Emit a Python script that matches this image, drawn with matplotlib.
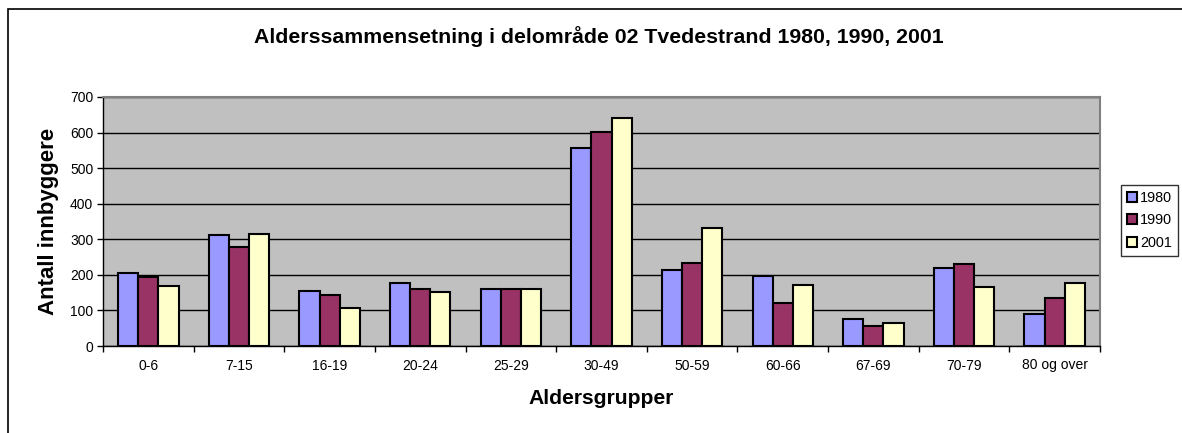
import numpy as np
import matplotlib

matplotlib.use("Agg")
import matplotlib.pyplot as plt
from matplotlib.patches import Patch, Rectangle

plt.rcParams["font.family"] = ["Liberation Sans", "DejaVu Sans"]

# Data
groups = ["0-6", "7-15", "16-19", "20-24", "25-29", "30-49",
          "50-59", "60-66", "67-69", "70-79", "80 og over"]
years = ["1980", "1990", "2001"]
v1980 = [205, 311, 155, 177, 160, 556, 214, 196, 76, 219, 90]
v1990 = [194, 279, 142, 161, 160, 603, 232, 120, 57, 231, 134]
v2001 = [169, 314, 107, 152, 159, 641, 331, 171, 64, 167, 176]
colors = ["#9999FF", "#993366", "#FFFFCC"]

fig = plt.figure(figsize=(11.82, 4.33), dpi=100)
fig.patch.set_facecolor("white")

# outer chart-area border (right/bottom edges fall outside the picture)
fig.patches.append(Rectangle((8 / 1182, -0.05), 1.1, 0.979 + 0.05,
                             transform=fig.transFigure, fill=False,
                             edgecolor="#000000", linewidth=1.2))

ax = fig.add_axes([103 / 1182, 87 / 433, 997 / 1182, 249 / 433])
ax.set_facecolor("#C0C0C0")

x = np.arange(len(groups))
w = 1 / 4.5
for i, (vals, c, lab) in enumerate(zip([v1980, v1990, v2001], colors, years)):
    ax.bar(x + (i - 1) * w, vals, width=w, color=c, edgecolor="black",
           linewidth=1.5, label=lab, zorder=3)

ax.set_xlim(-0.5, len(groups) - 0.5)
ax.set_ylim(0, 700)
ax.set_yticks(range(0, 701, 100))
ax.yaxis.grid(True, color="black", linewidth=1, zorder=1)
ax.set_axisbelow(True)

ax.set_xticks(x)
ax.set_xticklabels(groups, fontsize=10)
ax.set_xticks(np.arange(-0.5, len(groups), 1), minor=True)
ax.tick_params(axis="x", which="major", length=0, pad=9)
ax.tick_params(axis="x", which="minor", length=4, width=1, direction="out")
ax.tick_params(axis="y", labelsize=10, length=4, width=1, direction="out", pad=3)

for side in ["top", "right"]:
    ax.spines[side].set_color("#808080")
    ax.spines[side].set_linewidth(1.5)
for side in ["left", "bottom"]:
    ax.spines[side].set_color("black")
    ax.spines[side].set_linewidth(1)

ax.set_ylabel("Antall innbyggere", fontsize=16, fontweight="bold", labelpad=8)
ax.set_xlabel("Aldersgrupper", fontsize=15.2, fontweight="bold", labelpad=12)

fig.text(598.5 / 1182, 1 - 37 / 433,
         "Alderssammensetning i delområde 02 Tvedestrand 1980, 1990, 2001",
         ha="center", va="center", fontsize=15.3, fontweight="bold")

handles = [Patch(facecolor=c, edgecolor="black", linewidth=1.5, label=y)
           for c, y in zip(colors, years)]
leg = fig.legend(handles=handles, loc="upper left",
                 bbox_to_anchor=(1121 / 1182, 1 - 185 / 433),
                 fontsize=10.4, frameon=True, fancybox=False,
                 edgecolor="black", handlelength=0.7, handleheight=0.7,
                 handletextpad=0.2, borderpad=0.4, labelspacing=0.6,
                 borderaxespad=0)
leg.get_frame().set_linewidth(1)

fig.savefig("out.png", dpi=100)
